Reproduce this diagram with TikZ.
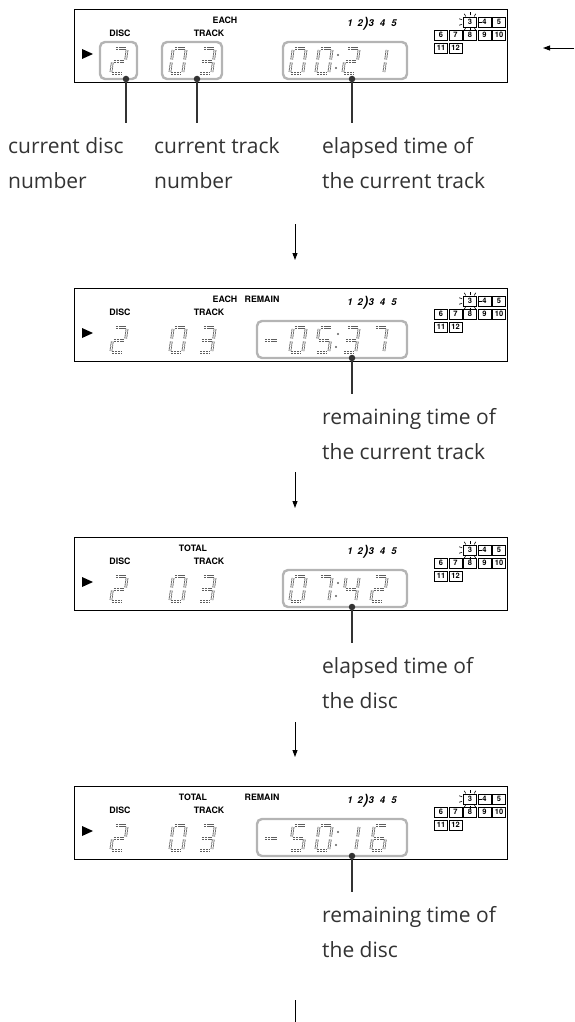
\documentclass[tikz,border=0pt]{standalone}
\usepackage{fontspec}
\setmainfont{Open Sans}
\setsansfont{TeX Gyre Heros}
\usetikzlibrary{arrows.meta,positioning,calc}
\definecolor{cInk}{HTML}{333333}
\definecolor{cFrame}{HTML}{B4B4B4}
\definecolor{cSeg}{HTML}{5E5E5E}
\tikzset{
  >={Triangle[width=5pt,length=7pt]},
  lcd/.style ={draw=black,line width=0.8pt,minimum width=433pt,minimum height=73pt,inner sep=0pt,outer sep=0pt},
  frame/.style={draw=cFrame,line width=2.4pt,rounded corners=5pt},
  seg/.style ={cSeg,line width=0.8pt,double=white,double distance=1.1pt,dash pattern=on 2.2pt off 0.6pt},
  tag/.style ={font=\sffamily\bfseries\fontsize{8.8}{9}\selectfont,inner sep=0pt},
  cell/.style={draw,line width=0.6pt,minimum width=13pt,minimum height=10pt,inner sep=0pt,
               font=\sffamily\bfseries\fontsize{7.5}{8}\selectfont},
  note/.style={font=\fontsize{21}{35}\selectfont,text=cInk,align=left,anchor=north west,inner sep=0pt},
  lead/.style={cInk,line width=2.2pt},
  ldot/.style={circle,fill=cInk,inner sep=0pt,minimum size=6.5pt},
  ar/.style  ={->,line width=0.9pt},
}
% segment lists of the digits
\newcommand{\sgZero}{a,b,c,d,e,f}
\newcommand{\sgOne}{b,c}
\newcommand{\sgTwo}{a,b,g,e,d}
\newcommand{\sgThree}{a,b,g,c,d}
\newcommand{\sgFour}{f,g,b,c}
\newcommand{\sgFive}{a,f,g,c,d}
\newcommand{\sgSix}{a,f,g,e,d,c}
\newcommand{\sgSeven}{a,b,c}
\newcommand{\lcddigit}[3]{%
  \begin{scope}[shift={(#1,#2)},xslant=0.14]
    \coordinate (a1) at (-5,-12.5);  \coordinate (a2) at (5,-12.5);
    \coordinate (b1) at (6.5,-11);   \coordinate (b2) at (6.5,-1.5);
    \coordinate (c1) at (6.5,1.5);   \coordinate (c2) at (6.5,11);
    \coordinate (d1) at (-5,12.5);   \coordinate (d2) at (5,12.5);
    \coordinate (e1) at (-6.5,1.5);  \coordinate (e2) at (-6.5,11);
    \coordinate (f1) at (-6.5,-11);  \coordinate (f2) at (-6.5,-1.5);
    \coordinate (g1) at (-5,0.5);    \coordinate (g2) at (5,0.5);
    \foreach \s in #3 \draw[seg] (\s1) -- (\s2);
  \end{scope}}
\newcommand{\lcdcolon}{\fill[cSeg] (264,46) circle (1.2pt) (262,59) circle (1.2pt);}
\newcommand{\lcdminus}{\draw[seg] (191,52.5) -- (203,52.5);}
% parts that every display shows
\newcommand{\lcdcommon}{%
  \node[tag] at (46,24) {DISC};
  \node[tag] at (135,24) {TRACK};
  \fill (8,40) -- (19,45) -- (8,50) -- cycle;
  \lcddigit{45}{52}{\sgTwo}
  \lcddigit{104}{52}{\sgZero}
  \lcddigit{133}{52}{\sgThree}
  \node[font=\sffamily\bfseries\itshape\fontsize{9.5}{10}\selectfont,inner sep=0pt] at (298,15)
    {1\hspace{5pt}2\hspace{0.5pt}\raisebox{-1.5pt}{\fontsize{14}{14}\selectfont)}\hspace{0.5pt}3\hspace{6pt}4\hspace{6pt}5};
  \foreach \n/\c/\r in {3/3/1,4/4/1,5/5/1,6/1/2,7/2/2,8/3/2,9/4/2,10/5/2,11/1/3,12/2/3}
    \node[cell] (cell\n) at ({352.5+14.5*\c},{13*\r}) {\n};
  \foreach \a in {0,60,90,120,160,200,240,270,300}
    \draw[line width=0.6pt] ($(cell3.center)+(\a:8.5 and 6.5)$) -- ($(cell3.center)+(\a:11.5 and 9.5)$);
}

\begin{document}
\begin{tikzpicture}[x=1pt,y=-1pt]
\useasboundingbox (0,0) rectangle (574,1022);

% display 1: each track, elapsed
\node[lcd] (lcd1) at (290.5,45.5) {};
\begin{scope}[shift={(lcd1.north west)}]
  \lcdcommon
  \node[tag] at (151,11) {EACH};
  \draw[frame] (26,33) rectangle (63,70);
  \draw[frame] (88,33) rectangle (148,70);
  \draw[frame] (209,33) rectangle (333,70);
  \lcddigit{224}{52}{\sgZero}
  \lcddigit{250}{52}{\sgZero}
  \lcdcolon
  \lcddigit{277}{52}{\sgTwo}
  \lcddigit{305}{52}{\sgOne}
  \node[ldot] (dot1a) at (52,70) {};
  \node[ldot] (dot1b) at (123,70) {};
  \node[ldot] (dot1c) at (278,70) {};
  \coordinate (end1a) at (52,114);
  \coordinate (end1b) at (123,114);
  \coordinate (end1c) at (278,114);
  \node[note] (txt1a) at (-66,128) {current disc\\number};
  \node[note] (txt1b) at (80,128) {current track\\number};
  \node[note] (txt1c) at (248,128) {elapsed time of\\the current track};
\end{scope}
\draw[lead] (dot1a.center) -- (end1a);
\draw[lead] (dot1b.center) -- (end1b);
\draw[lead] (dot1c.center) -- (end1c);
\coordinate (in0) at (574,48);
\coordinate (in1) at (543,48);
\draw[ar] (in0) -- (in1);

\coordinate (arr1s) at (295,224);
\coordinate (arr1e) at (295,260);
\draw[ar] (arr1s) -- (arr1e);

% display 2: each track, remaining
\node[lcd] (lcd2) at (290.5,324.5) {};
\begin{scope}[shift={(lcd2.north west)}]
  \lcdcommon
  \node[tag] at (151,11) {EACH};
  \node[tag] at (188,11) {REMAIN};
  \draw[frame] (183,33) rectangle (333,70);
  \lcdminus
  \lcddigit{224}{52}{\sgZero}
  \lcddigit{250}{52}{\sgFive}
  \lcdcolon
  \lcddigit{277}{52}{\sgThree}
  \lcddigit{305}{52}{\sgSeven}
  \node[ldot] (dot2) at (278,70) {};
  \coordinate (end2) at (278,106);
  \node[note] (txt2) at (248,120) {remaining time of\\the current track};
\end{scope}
\draw[lead] (dot2.center) -- (end2);

\coordinate (arr2s) at (295,472);
\coordinate (arr2e) at (295,508);
\draw[ar] (arr2s) -- (arr2e);

% display 3: total, elapsed
\node[lcd] (lcd3) at (290.5,573.5) {};
\begin{scope}[shift={(lcd3.north west)}]
  \lcdcommon
  \node[tag] at (119,11) {TOTAL};
  \draw[frame] (209,33) rectangle (333,70);
  \lcddigit{224}{52}{\sgZero}
  \lcddigit{250}{52}{\sgSeven}
  \lcdcolon
  \lcddigit{277}{52}{\sgFour}
  \lcddigit{305}{52}{\sgTwo}
  \node[ldot] (dot3) at (278,70) {};
  \coordinate (end3) at (278,106);
  \node[note] (txt3) at (248,120) {elapsed time of\\the disc};
\end{scope}
\draw[lead] (dot3.center) -- (end3);

\coordinate (arr3s) at (295,722);
\coordinate (arr3e) at (295,757);
\draw[ar] (arr3s) -- (arr3e);

% display 4: total, remaining
\node[lcd] (lcd4) at (290.5,822.5) {};
\begin{scope}[shift={(lcd4.north west)}]
  \lcdcommon
  \node[tag] at (119,11) {TOTAL};
  \node[tag] at (188,11) {REMAIN};
  \draw[frame] (183,33) rectangle (333,70);
  \lcdminus
  \lcddigit{224}{52}{\sgFive}
  \lcddigit{250}{52}{\sgZero}
  \lcdcolon
  \lcddigit{277}{52}{\sgOne}
  \lcddigit{305}{52}{\sgSix}
  \node[ldot] (dot4) at (278,70) {};
  \coordinate (end4) at (278,106);
  \node[note] (txt4) at (248,120) {remaining time of\\the disc};
\end{scope}
\draw[lead] (dot4.center) -- (end4);

\coordinate (arr4s) at (295,1000);
\coordinate (arr4e) at (295,1022);
\draw[line width=0.9pt] (arr4s) -- (arr4e);
\end{tikzpicture}
\end{document}
